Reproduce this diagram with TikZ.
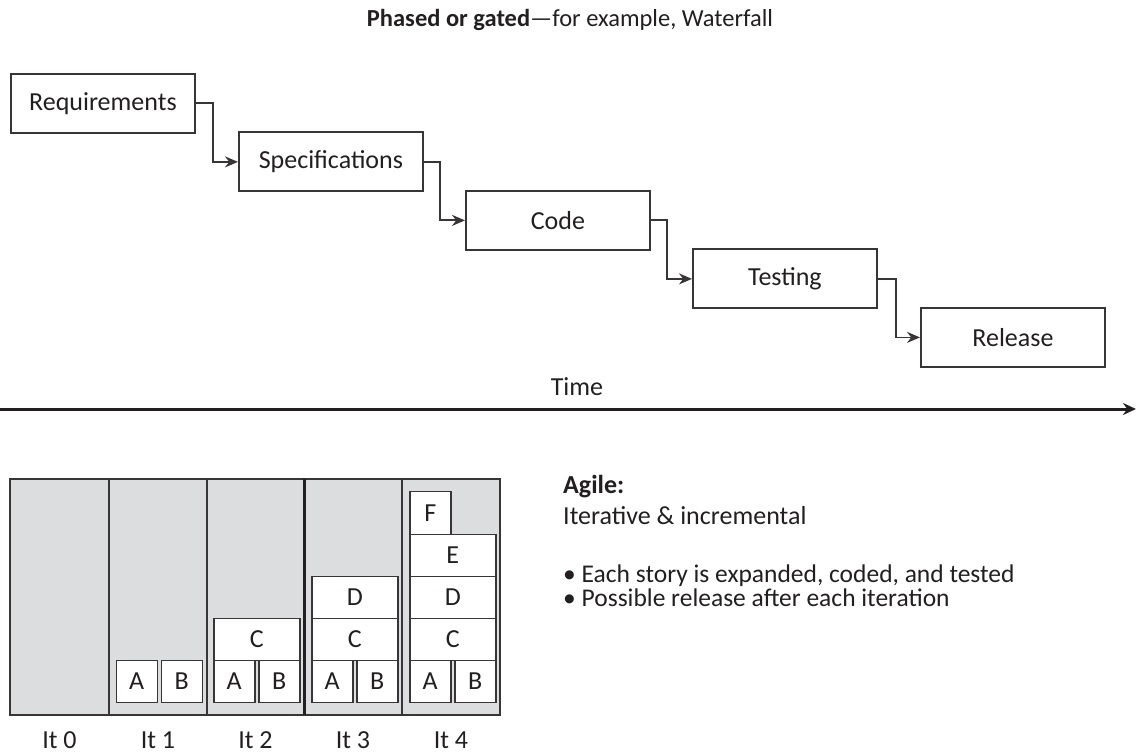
\documentclass[tikz,border=0pt]{standalone}
\usepackage{fontspec}
\setmainfont{Carlito}
\usetikzlibrary{arrows.meta}
\definecolor{ink}{HTML}{231F20}
\definecolor{panel}{HTML}{DCDDDF}
\tikzset{
  x=1pt, y=-1pt,
  every node/.style={text=ink, font=\fontsize{26}{30}\selectfont},
  phase/.style={draw=ink!90, line width=1.8pt, fill=white, inner sep=0pt,
    minimum width=184pt, minimum height=59pt, anchor=north west},
  conn/.style={draw=ink!90, line width=1.8pt,
    -{Stealth[length=13pt,width=11pt]}},
  tile/.style={draw=ink!90, line width=1.5pt, fill=white, inner sep=0pt,
    minimum height=42pt, anchor=south west},
  half/.style={tile, minimum width=41pt},
  full/.style={tile, minimum width=86pt},
  itlabel/.style={anchor=base},
}
\begin{document}
\begin{tikzpicture}
\useasboundingbox (0,0) rectangle (1136,754);

% heading
\node[anchor=base, font=\fontsize{24.5}{28}\selectfont] (title) at (570,27)
  {\textbf{Phased or gated}---for example, Waterfall};

% waterfall phases
\node[phase] (req)  at (10,73)     {Requirements};
\node[phase] (spec) at (238,131.5) {Specifications};
\node[phase] (code) at (465,190)   {Code};
\node[phase] (test) at (692,248.5) {Testing};
\node[phase] (rel)  at (920,307)   {Release};

\draw[conn] (req.east)  -- ++(17,0) |- (spec.west);
\draw[conn] (spec.east) -- ++(16,0) |- (code.west);
\draw[conn] (code.east) -- ++(16,0) |- (test.west);
\draw[conn] (test.east) -- ++(18,0) |- (rel.west);

% time axis
\coordinate (t0) at (0,409);
\coordinate (t1) at (1136,409);
\draw[draw=ink, line width=3pt, -{Stealth[length=13pt,width=12pt]}] (t0) -- (t1);
\node[anchor=base] (time) at (577,395) {Time};

% iteration panel
\fill[panel] (10,479) rectangle (500,715);
\draw[ink!90, line width=1.6pt] (10,479) rectangle (500,715);
\foreach \d in {109,207,402}
  \draw[ink!90, line width=1.6pt] (\d,479) -- (\d,715);
\draw[ink, line width=3pt] (304,479) -- (304,715);

% iteration 1
\node[half] (a1) at (115.5,703) {A};
\node[half] (b1) at (160.5,703) {B};
% iteration 2
\node[half] (a2) at (213,703) {A};
\node[half] (b2) at (258,703) {B};
\node[full] (c2) at (213,661) {C};
% iteration 3
\node[half] (a3) at (311,703) {A};
\node[half] (b3) at (356,703) {B};
\node[full] (c3) at (311,661) {C};
\node[full] (d3) at (311,619) {D};
% iteration 4
\node[half] (a4) at (409,703) {A};
\node[half] (b4) at (454,703) {B};
\node[full] (c4) at (409,661) {C};
\node[full] (d4) at (409,619) {D};
\node[full] (e4) at (409,577) {E};
\node[half, minimum height=43pt] (f4) at (409,535) {F};

% iteration labels
\node[itlabel] (it0) at (59.5,748)  {It 0};
\node[itlabel] (it1) at (158,748)   {It 1};
\node[itlabel] (it2) at (255.5,748) {It 2};
\node[itlabel] (it3) at (353,748)   {It 3};
\node[itlabel] (it4) at (451,748)   {It 4};

% agile description
\node[anchor=base west, inner sep=0pt] (agile) at (563,493) {\textbf{Agile:}};
\node[anchor=base west, inner sep=0pt] (iter)  at (563,524) {Iterative \& incremental};
\node[anchor=base west, inner sep=0pt, align=left,
      font=\fontsize{25.5}{24}\selectfont] (bullets) at (563,606)
  {\textbullet\ Each story is expanded, coded, and tested\\
   \textbullet\ Possible release after each iteration};
\end{tikzpicture}
\end{document}
